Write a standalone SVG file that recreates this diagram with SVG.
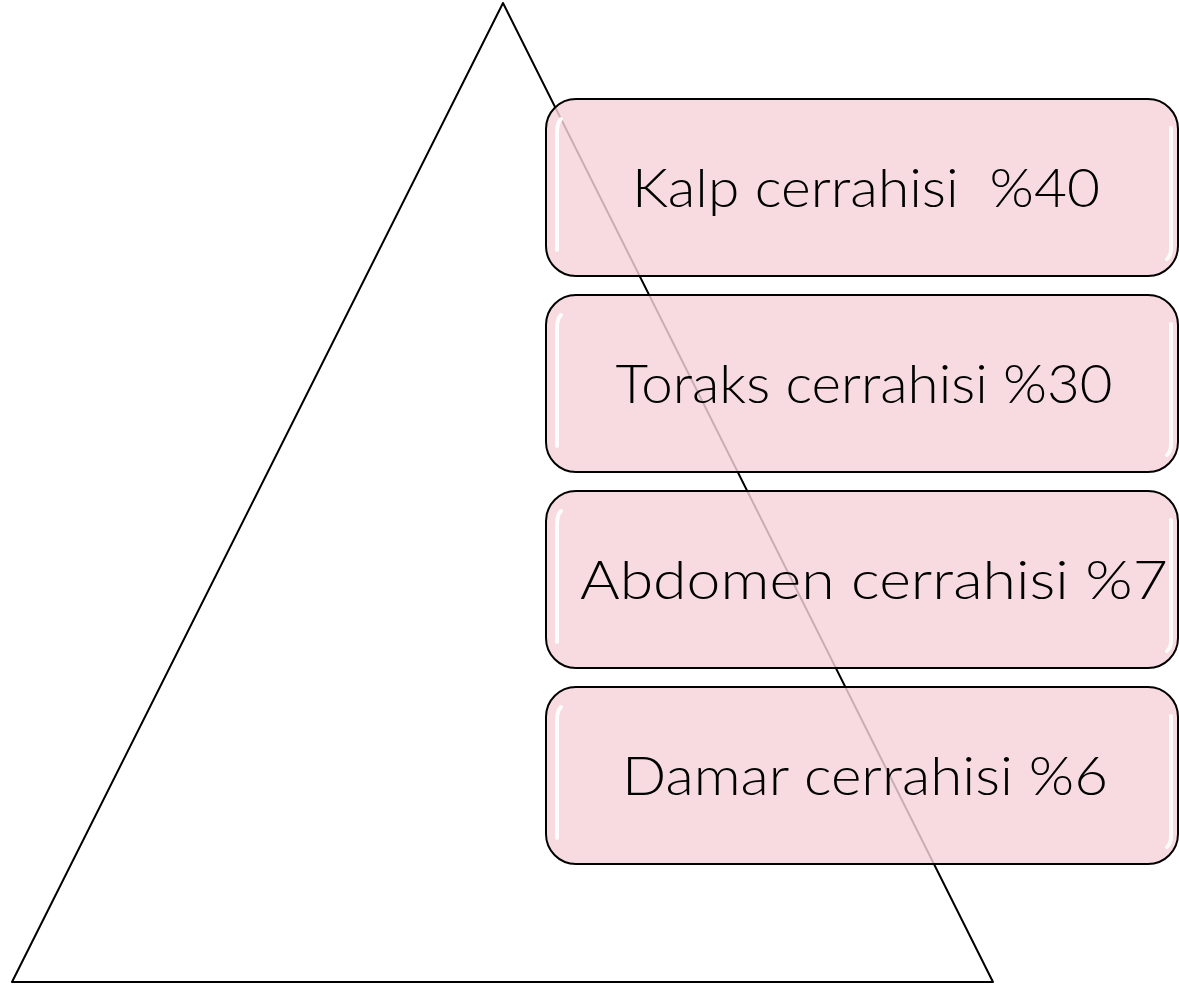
<svg xmlns="http://www.w3.org/2000/svg" width="1179" height="986" viewBox="0 0 1179 986">
<style>
.box{fill:#f5d3da;fill-opacity:0.82;stroke:#000;stroke-width:2}
.hl{fill:none;stroke:#fff;stroke-width:4;stroke-linecap:round;opacity:0.9}
.lbl{font-family:Lato,"DejaVu Sans","Liberation Sans",sans-serif;font-weight:300;font-size:54px;fill:#000;text-anchor:middle;white-space:pre}
</style>
<rect width="1179" height="986" fill="#fff"/>
<g id="pyramid">
<polygon points="503,3 12,982 993,982" fill="#fff" stroke="#000" stroke-width="2" stroke-linejoin="round"/>
</g>
<g id="box1">
<rect class="box" x="546" y="99" width="632" height="177" rx="30"/>
<path class="hl" d="M561,119 Q557,123 557,132 L557,250"/>
<path class="hl" d="M1171,128 L1171,248 Q1171,256 1167,259"/>
<text class="lbl" x="866" y="207" textLength="468" lengthAdjust="spacingAndGlyphs" xml:space="preserve">Kalp cerrahisi  %40</text>
</g>
<g id="box2">
<rect class="box" x="546" y="295" width="632" height="177" rx="30"/>
<path class="hl" d="M561,315 Q557,319 557,328 L557,446"/>
<path class="hl" d="M1171,324 L1171,444 Q1171,452 1167,455"/>
<text class="lbl" x="864" y="403" textLength="497" lengthAdjust="spacingAndGlyphs">Toraks cerrahisi %30</text>
</g>
<g id="box3">
<rect class="box" x="546" y="491" width="632" height="177" rx="30"/>
<path class="hl" d="M561,511 Q557,515 557,524 L557,642"/>
<path class="hl" d="M1171,520 L1171,640 Q1171,648 1167,651"/>
<text class="lbl" x="874" y="599" textLength="588" lengthAdjust="spacingAndGlyphs">Abdomen cerrahisi %7</text>
</g>
<g id="box4">
<rect class="box" x="546" y="687" width="632" height="177" rx="30"/>
<path class="hl" d="M561,707 Q557,711 557,720 L557,838"/>
<path class="hl" d="M1171,716 L1171,836 Q1171,844 1167,847"/>
<text class="lbl" x="865" y="795" textLength="486" lengthAdjust="spacingAndGlyphs">Damar cerrahisi %6</text>
</g>
<g id="connectors"></g>
</svg>
